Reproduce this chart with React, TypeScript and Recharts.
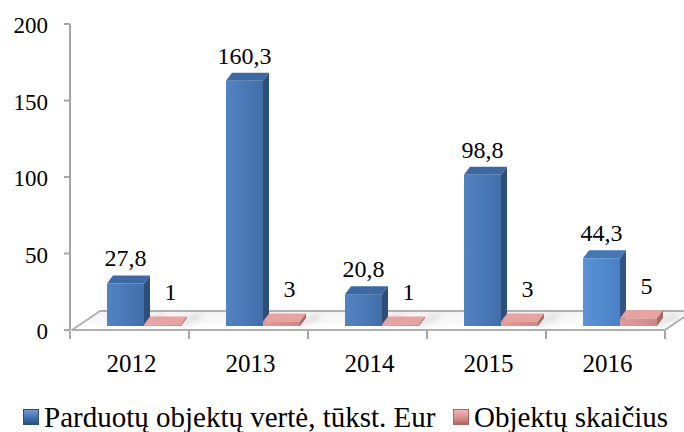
import { Bar, BarChart, Customized, LabelList, Legend, XAxis, YAxis } from 'recharts';

const years = ['2012', '2013', '2014', '2015', '2016'];
const soldValue = [27.8, 160.3, 20.8, 98.8, 44.3];
const objectCount = [1, 3, 1, 3, 5];
const valueTicks = [0, 50, 100, 150, 200];
const seriesNames = ['Parduotų objektų vertė, tūkst. Eur', 'Objektų skaičius'];

const data = years.map((year, i) => ({
  year,
  value: soldValue[i],
  count: objectCount[i],
}));

const FONT = 'Liberation Serif';
const W = 684;
const H = 432;
const MARGIN = { top: 24, right: 19, left: 10, bottom: 72 };
const Y_AXIS_W = 60;
const PLOT_LEFT = MARGIN.left + Y_AXIS_W;
const PLOT_RIGHT = W - MARGIN.right;
const PLOT_BOTTOM = 330;
// 3D look: shift into depth, and depth of each box
const DX = 14;
const DY = -4;
const SX = 6;
const SY = 8;
const FLOOR_DX = 28;
const FLOOR_DY = -19;

const palettes = {
  blue: { front: 'url(#blueFront)', side: '#2e4e7a', top: '#3d68a2' },
  blueLight: { front: 'url(#blueLightFront)', side: '#325683', top: '#4577b5' },
  pink: { front: 'url(#pinkFront)', side: '#a86866', top: '#e6a3a1' },
};

function Floor() {
  const n = years.length;
  const step = (PLOT_RIGHT - PLOT_LEFT) / n;
  const ticks = Array.from({ length: n + 1 }, (_, i) => PLOT_LEFT + i * step);
  return (
    <g>
      <defs>
        <linearGradient id='blueFront' x1='0' y1='0' x2='1' y2='0'>
          <stop offset='0%' stopColor='#5284c2' />
          <stop offset='100%' stopColor='#416ea9' />
        </linearGradient>
        <linearGradient id='blueLightFront' x1='0' y1='0' x2='1' y2='0'>
          <stop offset='0%' stopColor='#5b93d6' />
          <stop offset='100%' stopColor='#4a80c4' />
        </linearGradient>
        <linearGradient id='pinkFront' x1='0' y1='0' x2='1' y2='0'>
          <stop offset='0%' stopColor='#e29c9a' />
          <stop offset='100%' stopColor='#cf8886' />
        </linearGradient>
        <linearGradient id='floorFill' x1='0' y1='0' x2='0' y2='1'>
          <stop offset='0%' stopColor='#f2f2f2' />
          <stop offset='100%' stopColor='#ffffff' />
        </linearGradient>
        <filter id='soft' x='-50%' y='-50%' width='200%' height='200%'>
          <feGaussianBlur stdDeviation='3' />
        </filter>
      </defs>
      <polygon
        points={`${PLOT_LEFT + 2},${PLOT_BOTTOM} ${PLOT_RIGHT},${PLOT_BOTTOM} ${PLOT_RIGHT + FLOOR_DX},${PLOT_BOTTOM + FLOOR_DY} ${PLOT_LEFT + 2 + FLOOR_DX},${PLOT_BOTTOM + FLOOR_DY}`}
        fill='url(#floorFill)'
        stroke='#b0b0b0'
        strokeWidth={2}
        strokeLinejoin='round'
      />
      {ticks.map(x => (
        <line
          key={x}
          x1={x}
          x2={x}
          y1={PLOT_BOTTOM + 1}
          y2={PLOT_BOTTOM + 9}
          stroke='#a6a6a6'
          strokeWidth={2}
        />
      ))}
    </g>
  );
}

function makeBox(kind: 'blue' | 'pink') {
  return (props: any) => {
    const { x, y, width, height, payload } = props;
    if (x == null || y == null) return null;
    const p =
      kind === 'pink'
        ? palettes.pink
        : payload && payload.year === '2016'
          ? palettes.blueLight
          : palettes.blue;
    const fx = x + DX;
    const fy = y + DY;
    const w = width;
    const h = Math.max(height, 1);
    return (
      <g>
        <polygon
          points={`${fx + w - 2},${fy + h} ${fx + w + SX + 14},${fy + h - SY} ${fx + w + SX + 14},${fy + h - SY - 4} ${fx + w},${fy + h - 4}`}
          fill='#9a9a9a'
          opacity={0.45}
          filter='url(#soft)'
        />
        <polygon
          points={`${fx},${fy} ${fx + SX},${fy - SY} ${fx + w + SX},${fy - SY} ${fx + w},${fy}`}
          fill={p.top}
        />
        <polygon
          points={`${fx + w},${fy} ${fx + w + SX},${fy - SY} ${fx + w + SX},${fy + h - SY} ${fx + w},${fy + h}`}
          fill={p.side}
        />
        <rect x={fx} y={fy} width={w} height={h} fill={p.front} />
      </g>
    );
  };
}

function ValueLabel(props: any) {
  const { x, y, width, value } = props;
  return (
    <text
      x={x + DX + width / 2}
      y={y + DY - 17}
      textAnchor='middle'
      style={{ fontFamily: FONT }}
      fontSize={24}
      fill='#000'
    >
      {Number(value).toFixed(1).replace('.', ',')}
    </text>
  );
}

function CountLabel(props: any) {
  const { x, y, width, value } = props;
  return (
    <text
      x={x + DX + width / 2 + 8}
      y={y + DY - 24}
      textAnchor='middle'
      style={{ fontFamily: FONT }}
      fontSize={24}
      fill='#000'
    >
      {value}
    </text>
  );
}

function YTick(props: any) {
  const { y, payload } = props;
  return (
    <text
      x={48}
      y={y + 9}
      textAnchor='end'
      style={{ fontFamily: FONT }}
      fontSize={23}
      fill='#000'
    >
      {payload.value}
    </text>
  );
}

function XTick(props: any) {
  const { x, payload } = props;
  return (
    <text
      x={x + 2}
      y={372}
      textAnchor='middle'
      style={{ fontFamily: FONT }}
      fontSize={25}
      fill='#000'
    >
      {payload.value}
    </text>
  );
}

function LegendContent() {
  const items = [
    { name: seriesNames[0], left: 23, bg: 'linear-gradient(180deg, #6f9bd3 0%, #3f6dab 60%, #2e4e7a 100%)', border: '#2e4e7a' },
    { name: seriesNames[1], left: 453, bg: 'linear-gradient(180deg, #f0b6b4 0%, #d58e8c 60%, #a86866 100%)', border: '#a86866' },
  ];
  return (
    <div style={{ position: 'relative', width: W, height: 28 }}>
      {items.map(it => (
        <div
          key={it.name}
          style={{
            position: 'absolute',
            left: it.left,
            top: 0,
            height: 28,
            display: 'flex',
            alignItems: 'center',
            fontFamily: FONT,
            fontSize: 29,
            lineHeight: '28px',
            color: '#000',
            whiteSpace: 'nowrap',
          }}
        >
          <span
            style={{
              display: 'inline-block',
              width: 14,
              height: 14,
              background: it.bg,
              border: `1px solid ${it.border}`,
              marginRight: 5,
            }}
          />
          <span>{it.name}</span>
        </div>
      ))}
    </div>
  );
}

export default function App() {
  return (
    <div style={{ position: 'absolute', left: 0, top: 0, width: W, height: H, background: '#fff', fontFamily: FONT }}>
      <BarChart width={W} height={H} data={data} margin={MARGIN} barSize={37} barGap={0}>
        <Customized component={Floor} />
        <XAxis
          dataKey='year'
          axisLine={false}
          tickLine={false}
          height={30}
          tick={<XTick />}
          interval={0}
        />
        <YAxis
          width={Y_AXIS_W}
          domain={[0, 200]}
          ticks={valueTicks}
          interval={0}
          axisLine={{ stroke: '#a6a6a6', strokeWidth: 2 }}
          tickLine={{ stroke: '#a6a6a6', strokeWidth: 2 }}
          tickSize={6}
          tick={<YTick />}
        />
        <Legend
          layout='horizontal'
          verticalAlign='middle'
          align='center'
          wrapperStyle={{ top: 403, left: 0, width: W }}
          content={<LegendContent />}
        />
        <Bar dataKey='value' name={seriesNames[0]} shape={makeBox('blue')} isAnimationActive={false}>
          <LabelList dataKey='value' content={<ValueLabel />} />
        </Bar>
        <Bar dataKey='count' name={seriesNames[1]} shape={makeBox('pink')} isAnimationActive={false}>
          <LabelList dataKey='count' content={<CountLabel />} />
        </Bar>
      </BarChart>
    </div>
  );
}
